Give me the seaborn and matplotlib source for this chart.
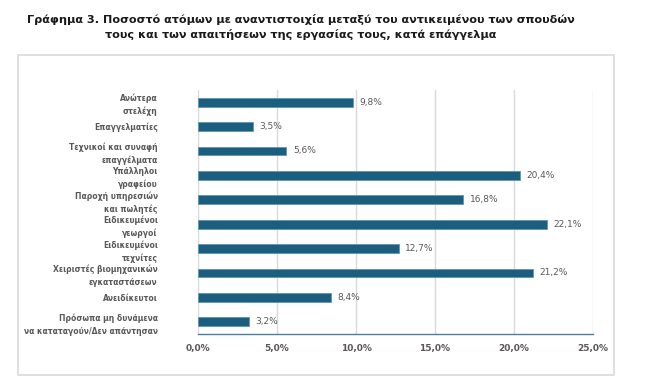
import matplotlib
matplotlib.use("Agg")
import matplotlib.pyplot as plt
import matplotlib.patches as mpatches
from matplotlib import font_manager
import pandas as pd
import seaborn as sns

categories = [
    "Ανώτερα\nστελέχη",
    "Επαγγελματίες",
    "Τεχνικοί και συναφή\nεπαγγέλματα",
    "Υπάλληλοι\nγραφείου",
    "Παροχή υπηρεσιών\nκαι πωλητές",
    "Ειδικευμένοι\nγεωργοί",
    "Ειδικευμένοι\nτεχνίτες",
    "Χειριστές βιομηχανικών\nεγκαταστάσεων",
    "Ανειδίκευτοι",
    "Πρόσωπα μη δυνάμενα\nνα καταταγούν/Δεν απάντησαν",
]
values = [9.8, 3.5, 5.6, 20.4, 16.8, 22.1, 12.7, 21.2, 8.4, 3.2]
xticks = [0, 5, 10, 15, 20, 25]

title = ("Γράφημα 3. Ποσοστό ατόμων με αναντιστοιχία μεταξύ του αντικειμένου των σπουδών\n"
         "τους και των απαιτήσεων της εργασίας τους, κατά επάγγελμα")

sns.set_theme(style="white")
plt.rcParams["font.family"] = ["DejaVu Sans"]

# condensed font for the title if there is one
names = {f.name for f in font_manager.fontManager.ttflist}
if "DejaVu Sans Condensed" in names:
    title_font, title_size = "DejaVu Sans Condensed", 8.9
elif "Liberation Sans Narrow" in names:
    title_font, title_size = "Liberation Sans Narrow", 9.6
else:
    title_font, title_size = "DejaVu Sans", 8.15

df = pd.DataFrame({"cat": categories, "val": values})

fig = plt.figure(figsize=(6.45, 3.84), dpi=100)
ax = fig.add_axes([198 / 645, 1 - 334 / 384, (593 - 198) / 645, (334 - 90) / 384])

bar_color = "#1b5e80"
sns.barplot(data=df, x="val", y="cat", orient="h", color=bar_color, width=0.36,
            edgecolor="#5f95b3", linewidth=0.6, saturation=1, ax=ax)

ax.set_xlim(0, 25)
ax.set_ylim(len(categories) - 0.5, -0.5)
ax.set_xticks(xticks)
ax.set_xticklabels([f"{t:.1f}%".replace(".", ",") for t in xticks],
                   fontsize=6.5, fontweight="bold", color="#595959")
ax.set_yticklabels(categories, fontsize=5.5, fontweight="bold", color="#595959",
                   linespacing=1.5)
ax.tick_params(axis="y", length=0, pad=29)
ax.tick_params(axis="x", length=0, pad=7)
ax.set_xlabel("")
ax.set_ylabel("")

ax.grid(axis="x", color="#d9d9d9", linewidth=1)
ax.set_axisbelow(True)
for s in ["top", "right", "left"]:
    ax.spines[s].set_visible(False)
ax.spines["bottom"].set_color("#4a7f9c")
ax.spines["bottom"].set_linewidth(1)

for i, v in enumerate(values):
    ax.text(v + 0.4, i, f"{v:.1f}%".replace(".", ","), va="center", ha="left",
            fontsize=6.5, color="#595959")

# chart frame
fig.patches.append(mpatches.Rectangle((18 / 645, 1 - 375 / 384), (614 - 18) / 645,
                                      (375 - 55) / 384, transform=fig.transFigure,
                                      fill=False, edgecolor="#d9d9d9", linewidth=1.2))

fig.text(0.466, 1 - 27 / 384, title, ha="center", va="center", fontsize=title_size,
         fontweight="bold", color="#1a1a1a", linespacing=1.45,
         family=[title_font, "DejaVu Sans"])

fig.savefig("out.png", dpi=100)
